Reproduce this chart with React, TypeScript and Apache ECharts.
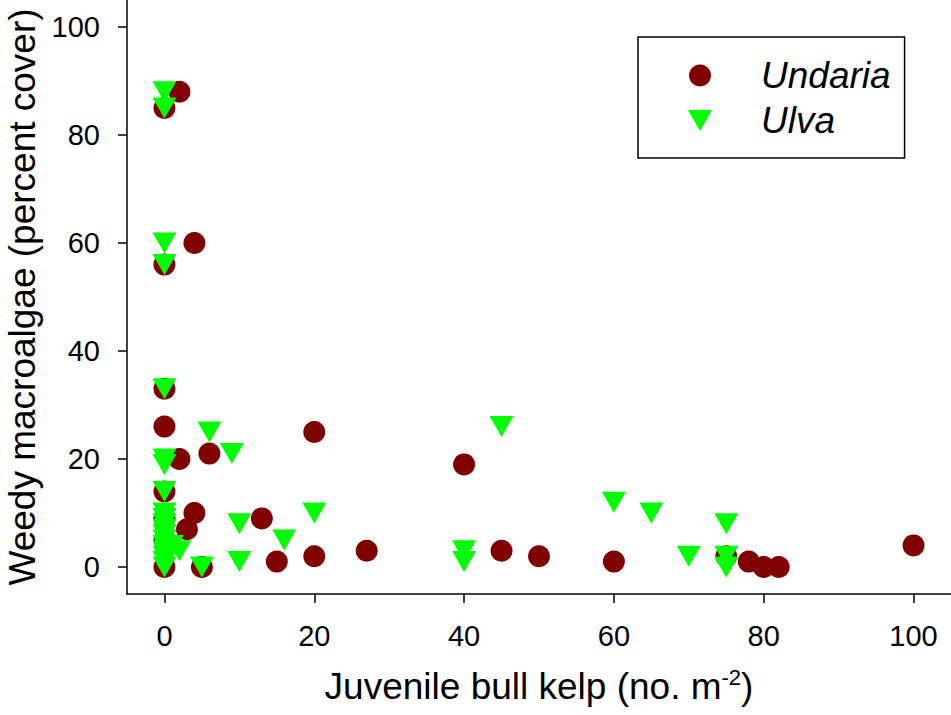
import React, { useEffect, useRef } from "react";
import * as echarts from "echarts";

const undariaX = [0, 2, 4, 0, 0, 0, 2, 6, 20, 40, 0, 4, 3, 0, 0, 5, 0, 13, 15, 20, 27, 45, 50, 60, 75, 78, 80, 82, 100];
const undariaY = [85, 88, 60, 56, 33, 26, 20, 21, 25, 19, 14, 10, 7, 9, 5, 0, 0, 9, 1, 2, 3, 3, 2, 1, 2, 1, 0, 0, 4];

const ulvaX = [0, 0, 0, 0, 0, 6, 9, 0, 0, 0, 0, 0, 0, 0, 0, 0, 0, 0, 0, 0, 0, 1, 2, 5, 10, 10, 16, 20, 40, 40, 45, 60, 65, 70, 75, 75, 75];
const ulvaY = [88, 85, 60, 56, 33, 25, 21, 20, 19, 14, 10, 9, 8, 7, 6, 5, 4, 3, 2, 1, 0, 4, 3, 0, 8, 1, 5, 10, 3, 1, 26, 12, 10, 2, 8, 2, 0];

const tickValues = [0, 20, 40, 60, 80, 100];
const seriesNames = ["Undaria", "Ulva"];
const xTitle = "Juvenile bull kelp (no. m";
const xTitleSup = "-2";
const yTitle = "Weedy macroalgae (percent cover)";

const FONT = "Liberation Sans, Arial, sans-serif";
const DOWN_TRI = "path://M0,0 L24,0 L12,21 Z";

export default function App() {
  const ref = useRef<HTMLDivElement>(null);
  useEffect(() => {
    if (!ref.current) return;
    const chart = echarts.init(ref.current, undefined, { renderer: "svg" });
    const undaria = undariaX.map((x, i) => [x, undariaY[i]]);
    const ulva = ulvaX.map((x, i) => [x, ulvaY[i]]);
    const axisCommon = {
      type: "value" as const,
      min: -5,
      max: 105,
      axisLine: { show: true, onZero: false, lineStyle: { color: "#000", width: 1.5 } },
      axisTick: { show: true, inside: false, length: 9, lineStyle: { color: "#000", width: 1.5 }, customValues: tickValues },
      splitLine: { show: false },
    };
    chart.setOption({
      animation: false,
      backgroundColor: "#fff",
      grid: { left: 127, right: 0, top: 0, bottom: 121, containLabel: false, outerBoundsMode: "none" },
      xAxis: {
        ...axisCommon,
        axisLabel: { customValues: tickValues, color: "#000", fontSize: 29, fontFamily: FONT, margin: 27 },
        name: `${xTitle}{sup|${xTitleSup}})`,
        nameLocation: "middle",
        nameGap: 72,
        nameTextStyle: {
          color: "#000",
          fontSize: 37,
          fontFamily: FONT,
          rich: {
            sup: { fontSize: 22, fontFamily: FONT, color: "#000", verticalAlign: "top", padding: [0, 0, 18, 0] },
          },
        },
      },
      yAxis: {
        ...axisCommon,
        axisLabel: { customValues: tickValues, color: "#000", fontSize: 29, fontFamily: FONT, margin: 27 },
        name: yTitle,
        nameLocation: "middle",
        nameGap: 84,
        nameTextStyle: { color: "#000", fontSize: 37, fontFamily: FONT },
      },
      legend: {
        orient: "vertical",
        left: 638,
        top: 37,
        padding: [20, 14, 19, 50],
        itemWidth: 24,
        itemHeight: 22,
        itemGap: 8,
        borderColor: "#000",
        borderWidth: 1.5,
        backgroundColor: "#fff",
        textStyle: {
          color: "#000",
          fontSize: 37,
          fontStyle: "italic",
          fontFamily: FONT,
          lineHeight: 24,
          padding: [0, 0, 0, 44],
        },
        data: [
          { name: seriesNames[0], icon: "circle" },
          { name: seriesNames[1], icon: DOWN_TRI },
        ],
      },
      series: [
        {
          name: seriesNames[0],
          type: "scatter",
          data: undaria,
          symbol: "circle",
          symbolSize: 22,
          itemStyle: { color: "#800000", opacity: 1 },
          z: 2,
        },
        {
          name: seriesNames[1],
          type: "scatter",
          data: ulva,
          symbol: DOWN_TRI,
          symbolSize: [24, 21],
          itemStyle: { color: "#00ff00", opacity: 1 },
          z: 3,
        },
      ],
    });
    return () => chart.dispose();
  }, []);
  return <div ref={ref} style={{ position: "absolute", left: 0, top: 0, width: 951, height: 715 }} />;
}
